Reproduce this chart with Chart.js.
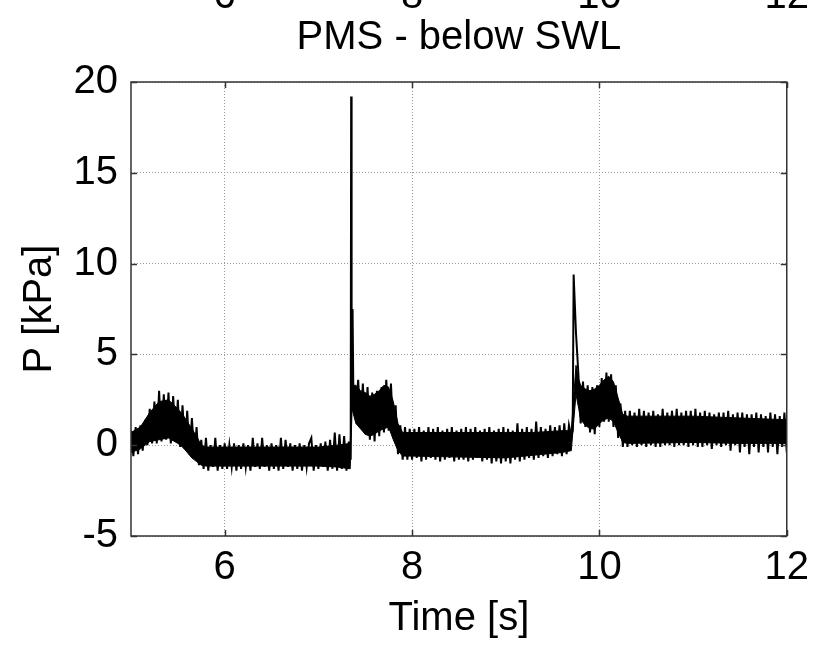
<!DOCTYPE html>
<html>
<head>
<meta charset="utf-8">
<script src="https://cdn.jsdelivr.net/npm/chart.js@4"></script>
<style>
  html, body { margin: 0; padding: 0; background: #fff; }
  #wrap { position: relative; width: 817px; height: 647px; }
</style>
</head>
<body>
<div id="wrap"><canvas id="c"></canvas></div>
<script>
// Time samples [s]
const times = [
  5,5.025,5.05,5.075,5.1,5.125,5.15,5.175,5.2,5.225,
  5.25,5.275,5.3,5.325,5.35,5.375,5.4,5.425,5.45,5.475,
  5.5,5.525,5.55,5.575,5.6,5.625,5.65,5.675,5.7,5.725,
  5.75,5.775,5.8,5.825,5.85,5.875,5.9,5.925,5.95,5.975,
  6,6.025,6.05,6.075,6.1,6.125,6.15,6.175,6.2,6.225,
  6.25,6.275,6.3,6.325,6.35,6.375,6.4,6.425,6.45,6.475,
  6.5,6.525,6.55,6.575,6.6,6.625,6.65,6.675,6.7,6.725,
  6.75,6.775,6.8,6.825,6.85,6.875,6.9,6.925,6.95,6.975,
  7,7.025,7.05,7.075,7.1,7.125,7.15,7.175,7.2,7.225,
  7.25,7.275,7.3,7.325,7.345,7.35,7.355,7.365,7.375,7.4,7.425,7.45,7.475,
  7.5,7.525,7.55,7.575,7.6,7.625,7.65,7.675,7.7,7.725,
  7.75,7.775,7.8,7.825,7.85,7.875,7.9,7.925,7.95,7.975,
  8,8.025,8.05,8.075,8.1,8.125,8.15,8.175,8.2,8.225,
  8.25,8.275,8.3,8.325,8.35,8.375,8.4,8.425,8.45,8.475,
  8.5,8.525,8.55,8.575,8.6,8.625,8.65,8.675,8.7,8.725,
  8.75,8.775,8.8,8.825,8.85,8.875,8.9,8.925,8.95,8.975,
  9,9.025,9.05,9.075,9.1,9.125,9.15,9.175,9.2,9.225,
  9.25,9.275,9.3,9.325,9.35,9.375,9.4,9.425,9.45,9.475,
  9.5,9.525,9.55,9.575,9.6,9.625,9.65,9.675,9.7,9.715,9.725,
  9.75,9.775,9.8,9.825,9.85,9.875,9.9,9.925,9.95,9.975,
  10,10.025,10.05,10.075,10.1,10.125,10.15,10.175,10.2,10.225,
  10.25,10.275,10.3,10.325,10.35,10.375,10.4,10.425,10.45,10.475,
  10.5,10.525,10.55,10.575,10.6,10.625,10.65,10.675,10.7,10.725,
  10.75,10.775,10.8,10.825,10.85,10.875,10.9,10.925,10.95,10.975,
  11,11.025,11.05,11.075,11.1,11.125,11.15,11.175,11.2,11.225,
  11.25,11.275,11.3,11.325,11.35,11.375,11.4,11.425,11.45,11.475,
  11.5,11.525,11.55,11.575,11.6,11.625,11.65,11.675,11.7,11.725,
  11.75,11.775,11.8,11.825,11.85,11.875,11.9,11.925,11.95,11.975,
  12
];

// Pressure [kPa]
const pressure = [
  0.8,-0.6,1.0,-0.5,1.1,-0.3,1.4,0.0,2.0,0.1,
  2.4,0.1,3.0,0.2,2.8,0.3,2.9,0.1,2.7,0.3,
  2.5,-0.1,2.2,-0.2,1.9,-0.5,1.5,-0.7,1.0,-1.1,
  0.3,-1.3,0.4,-1.4,0.0,-1.2,0.4,-1.4,0.0,-1.3,
  0.1,-1.3,0.0,-1.2,0.1,-1.4,0.0,-1.3,0.1,-1.2,
  0.0,-1.4,0.4,-1.2,0.1,-1.3,0.4,-1.2,0.0,-1.4,
  0.1,-1.3,0.0,-1.4,0.4,-1.3,0.3,-1.2,0.1,-1.4,
  0.0,-1.3,0.1,-1.4,0.0,-1.2,0.1,0.4,-1.4,0.0,
  -1.3,0.1,-1.2,0.2,-1.4,0.3,-1.3,0.7,-1.4,0.6,
  -1.3,0.5,-1.4,0.2,-0.8,19.2,2.5,7.5,2.2,2.0,3.6,1.0,3.4,
  0.6,3.2,0.3,2.9,0.2,3.0,0.5,3.2,0.7,3.6,
  0.8,3.4,0.4,2.2,-0.5,1.1,-0.8,1.0,-0.8,0.9,
  -0.8,0.9,-0.7,1.0,-0.9,0.8,-0.8,1.0,-0.7,0.9,
  -0.8,1.0,-0.9,0.8,-0.8,0.9,-0.7,1.0,-0.9,0.8,
  -0.8,0.9,-0.8,1.0,-0.9,0.9,-0.8,1.0,-0.7,0.8,
  -0.9,0.9,-0.8,1.0,-1.0,0.8,-0.9,0.9,-1.0,1.0,
  -0.9,0.9,-1.0,0.8,-0.8,1.2,-0.9,0.9,-0.8,1.0,
  -0.7,0.9,-0.8,1.3,-0.7,1.0,-0.6,0.9,-0.7,1.1,
  -0.6,1.0,-0.5,1.1,-0.6,1.2,-0.5,1.1,0.5,0.8,9.4,
  6.2,4.0,1.2,3.5,1.0,3.3,0.7,3.2,0.6,3.3,
  1.0,3.7,1.3,4.0,1.3,3.9,1.0,3.3,0.4,2.3,
  -0.1,1.9,-0.1,1.9,0.0,1.8,-0.1,2.0,0.0,1.9,
  -0.1,1.8,0.0,1.9,-0.1,1.7,-0.1,2.0,0.0,1.8,
  0.0,1.9,-0.1,2.0,0.0,1.8,0.0,1.9,-0.1,1.9,
  0.0,2.0,-0.1,1.8,-0.1,1.9,0.0,1.8,-0.2,1.7,
  0.0,1.8,-0.1,1.8,0.0,1.9,-0.3,1.7,0.0,1.8,
  -0.4,1.8,-0.1,1.7,-0.5,1.7,-0.1,1.8,-0.4,1.7,
  -0.1,1.6,-0.4,1.8,-0.1,1.7,-0.5,1.6,-0.1,1.8,
  -0.4
];

// Dense (solid) part of the noise band
const bandTimes = [5, 5.1, 5.2, 5.3, 5.4, 5.5, 5.55, 5.6, 5.65, 5.7, 5.75, 5.8, 6, 6.5, 7, 7.2, 7.34, 7.36,
  7.4, 7.45, 7.5, 7.55, 7.6, 7.65, 7.7, 7.75, 7.8, 7.85, 7.9, 8, 8.5, 9, 9.3, 9.6, 9.7, 9.75, 9.78,
  9.8, 9.85, 9.9, 9.95, 10, 10.05, 10.1, 10.15, 10.2, 10.25, 10.3, 11, 11.5, 12];
const bandHigh = [0.7, 1.0, 1.8, 2.4, 2.5, 2.0, 1.7, 1.3, 0.9, 0.5, 0.0, -0.1, -0.1, -0.1, -0.1, 0.0, 0.1, 3.3,
  3.3, 3.0, 2.9, 2.7, 2.8, 3.0, 3.3, 3.2, 2.4, 1.2, 0.7, 0.7, 0.7, 0.7, 0.7, 0.8, 0.8, 4.4, 3.6,
  3.3, 3.1, 3.0, 3.1, 3.3, 3.6, 3.8, 3.5, 2.6, 1.7, 1.6, 1.6, 1.5, 1.4];
const bandLow = [-0.4, -0.2, 0.2, 0.3, 0.4, 0.1, -0.1, -0.4, -0.7, -0.9, -1.1, -1.15, -1.15, -1.15, -1.15, -1.2, -1.3, 2.0,
  1.2, 0.9, 0.6, 0.5, 0.6, 0.8, 0.9, 1.0, 0.3, -0.3, -0.6, -0.6, -0.65, -0.7, -0.55, -0.4, -0.3, 2.8, 2.0,
  1.4, 1.1, 0.9, 0.9, 1.2, 1.4, 1.5, 1.3, 0.7, 0.15, 0.1, 0.15, 0.1, 0.1];

const xTicks = [6, 8, 10, 12];
const yTicks = [-5, 0, 5, 10, 15, 20];

const FONT = '"Liberation Sans", Arial, Helvetica, sans-serif';

const toXY = (xs, ys) => xs.map((x, i) => ({ x: x, y: ys[i] }));

const framePlugin = {
  id: 'frame',
  afterDatasetsDraw(chart) {
    const { ctx, chartArea: a, scales } = chart;
    ctx.save();
    ctx.strokeStyle = '#333';
    ctx.lineWidth = 1.5;
    ctx.strokeRect(a.left, a.top, a.right - a.left, a.bottom - a.top);
    ctx.beginPath();
    xTicks.forEach(v => {
      const px = Math.round(scales.x.getPixelForValue(v)) + 0.5;
      ctx.moveTo(px, a.top); ctx.lineTo(px, a.top + 6);
      ctx.moveTo(px, a.bottom); ctx.lineTo(px, a.bottom - 6);
    });
    yTicks.forEach(v => {
      const py = Math.round(scales.y.getPixelForValue(v)) + 0.5;
      ctx.moveTo(a.left, py); ctx.lineTo(a.left + 6, py);
      ctx.moveTo(a.right, py); ctx.lineTo(a.right - 6, py);
    });
    ctx.stroke();
    // cut-off tick labels of the panel above
    ctx.fillStyle = '#000';
    ctx.font = '40px ' + FONT;
    ctx.textAlign = 'center';
    ctx.textBaseline = 'alphabetic';
    xTicks.forEach(v => ctx.fillText(String(v), scales.x.getPixelForValue(v), 8));
    ctx.restore();
  }
};

new Chart(document.getElementById('c'), {
  type: 'line',
  data: {
    datasets: [
      {
        data: toXY(times, pressure),
        borderColor: '#000',
        borderWidth: 2,
        pointRadius: 0,
        tension: 0,
        fill: false,
        order: 0
      },
      {
        data: toXY(bandTimes, bandHigh),
        borderColor: '#000',
        borderWidth: 1,
        backgroundColor: '#000',
        pointRadius: 0,
        tension: 0,
        fill: '+1',
        order: 1
      },
      {
        data: toXY(bandTimes, bandLow),
        borderColor: '#000',
        borderWidth: 1,
        pointRadius: 0,
        tension: 0,
        fill: false,
        order: 2
      }
    ]
  },
  options: {
    animation: false,
    responsive: true,
    maintainAspectRatio: false,
    layout: { padding: { left: 0, right: 28, top: 0, bottom: 0 } },
    plugins: {
      legend: { display: false },
      tooltip: { enabled: false },
      title: {
        display: true,
        text: 'PMS - below SWL',
        fullSize: false,
        color: '#000',
        font: { family: FONT, size: 40, weight: 'normal', lineHeight: 1.2 },
        padding: { top: 14, bottom: 20 }
      }
    },
    scales: {
      x: {
        type: 'linear',
        min: 5, max: 12,
        afterBuildTicks: s => { s.ticks = xTicks.map(v => ({ value: v })); },
        afterFit: s => { s.height = 111; },
        grid: { color: '#9a9a9a', lineWidth: 1, drawTicks: false },
        border: { display: false, dash: [1, 2] },
        ticks: { color: '#000', font: { family: FONT, size: 40 }, padding: 8, maxRotation: 0, autoSkip: false },
        title: { display: true, text: 'Time [s]', color: '#000', font: { family: FONT, size: 40, lineHeight: 1.2 }, padding: { top: 4, bottom: 4 } }
      },
      y: {
        type: 'linear',
        min: -5, max: 20,
        afterBuildTicks: s => { s.ticks = yTicks.map(v => ({ value: v })); },
        afterFit: s => { s.width = 131; },
        grid: { color: '#9a9a9a', lineWidth: 1, drawTicks: false },
        border: { display: false, dash: [1, 2] },
        ticks: { color: '#000', font: { family: FONT, size: 40 }, padding: 13 },
        title: { display: true, text: 'P [kPa]', color: '#000', font: { family: FONT, size: 40, lineHeight: 1.2 }, padding: { top: 16, bottom: 0 } }
      }
    }
  },
  plugins: [framePlugin]
});
</script>
</body>
</html>
